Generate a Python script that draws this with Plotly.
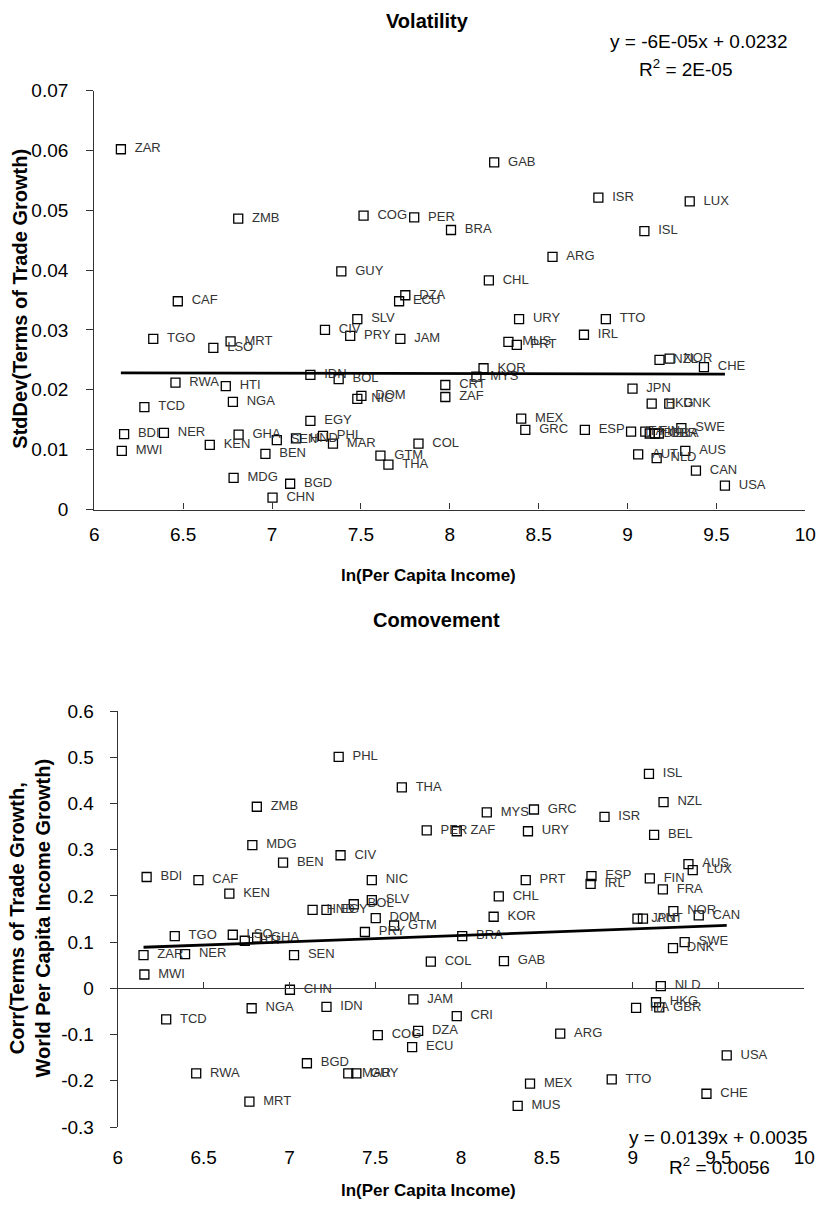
import plotly.graph_objects as go

# ---------------- data ----------------
countries = ["ZAR", "ZMB", "COG", "PER", "GUY", "CAF", "DZA", "ECU", "SLV", "GAB",
             "ISR", "LUX", "BRA", "ISL", "ARG", "CHL", "URY", "TTO", "CIV", "PRY",
             "JAM", "TGO", "MRT", "LSO", "IDN", "BOL", "RWA", "HTI", "DOM", "NIC",
             "NGA", "TCD", "EGY", "BDI", "NER", "GHA", "SEN", "HND", "PHL", "MAR",
             "KEN", "MWI", "BEN", "COL", "GTM", "THA", "MDG", "BGD", "CHN", "IRL",
             "MUS", "PRT", "NZL", "NOR", "CHE", "KOR", "MYS", "CRI", "ZAF", "JPN",
             "HKG", "DNK", "MEX", "GRC", "ESP", "SWE", "AUT", "NLD", "AUS", "CAN",
             "USA", "ITA", "FIN", "BEL", "GBR", "FRA"]

# labels as printed in the Volatility panel (CRI shows as "CRT" there)
volatility_labels = ["ZAR", "ZMB", "COG", "PER", "GUY", "CAF", "DZA", "ECU", "SLV", "GAB",
                     "ISR", "LUX", "BRA", "ISL", "ARG", "CHL", "URY", "TTO", "CIV", "PRY",
                     "JAM", "TGO", "MRT", "LSO", "IDN", "BOL", "RWA", "HTI", "DOM", "NIC",
                     "NGA", "TCD", "EGY", "BDI", "NER", "GHA", "SEN", "HND", "PHL", "MAR",
                     "KEN", "MWI", "BEN", "COL", "GTM", "THA", "MDG", "BGD", "CHN", "IRL",
                     "MUS", "PRT", "NZL", "NOR", "CHE", "KOR", "MYS", "CRT", "ZAF", "JPN",
                     "HKG", "DNK", "MEX", "GRC", "ESP", "SWE", "AUT", "NLD", "AUS", "CAN",
                     "USA", "ITA", "FIN", "BEL", "GBR", "FRA"]

ln_income = [6.15, 6.81, 7.515, 7.80, 7.39, 6.47, 7.75, 7.715, 7.48, 8.25,
             8.836, 9.35, 8.007, 9.095, 8.578, 8.22, 8.39, 8.878, 7.298, 7.44,
             7.722, 6.332, 6.767, 6.67, 7.216, 7.375, 6.457, 6.74, 7.503, 7.48,
             6.78, 6.282, 7.216, 6.168, 6.392, 6.812, 7.027, 7.135, 7.287, 7.343,
             6.65, 6.155, 6.963, 7.824, 7.61, 7.655, 6.784, 7.102, 7.003, 8.755,
             8.33, 8.377, 9.18, 9.237, 9.43, 8.19, 8.15, 7.975, 7.975, 9.028,
             9.136, 9.235, 8.402, 8.425, 8.76, 9.303, 9.06, 9.164, 9.325, 9.385,
             9.548, 9.02, 9.10, 9.125, 9.155, 9.176]

stddev_tot = [0.0602, 0.0486, 0.0491, 0.0488, 0.0398, 0.0348, 0.0358, 0.0348, 0.0318, 0.0580,
              0.0521, 0.0515, 0.0467, 0.0465, 0.0422, 0.0383, 0.0318, 0.0318, 0.0300, 0.0290,
              0.0285, 0.0285, 0.0281, 0.0270, 0.0225, 0.0218, 0.0212, 0.0206, 0.0190, 0.0185,
              0.0180, 0.0171, 0.0148, 0.0126, 0.0128, 0.0125, 0.0116, 0.0119, 0.0123, 0.0110,
              0.0108, 0.0098, 0.0093, 0.0110, 0.0090, 0.0075, 0.0053, 0.0043, 0.0020, 0.0292,
              0.0280, 0.0275, 0.0250, 0.0252, 0.0238, 0.0236, 0.0222, 0.0208, 0.0188, 0.0202,
              0.0177, 0.0177, 0.0152, 0.0133, 0.0133, 0.0136, 0.0092, 0.0086, 0.0098, 0.0065,
              0.0040, 0.0130, 0.0130, 0.0127, 0.0127, 0.0127]

corr_tot = [0.072, 0.393, -0.101, 0.342, -0.184, 0.234, -0.092, -0.127, 0.191, 0.059,
            0.371, 0.256, 0.113, 0.464, -0.098, 0.199, 0.340, -0.197, 0.288, 0.122,
            -0.024, 0.113, -0.245, 0.116, -0.040, 0.182, -0.184, 0.103, 0.152, 0.234,
            -0.043, -0.067, 0.170, 0.241, 0.074, 0.110, 0.072, 0.170, 0.501, -0.184,
            0.205, 0.030, 0.272, 0.058, 0.136, 0.435, 0.310, -0.162, -0.003, 0.226,
            -0.254, 0.234, 0.403, 0.167, -0.228, 0.155, 0.381, -0.060, 0.340, 0.151,
            -0.030, 0.087, -0.206, 0.387, 0.243, 0.100, 0.151, 0.005, 0.269, 0.158,
            -0.145, -0.042, 0.238, 0.332, -0.041, 0.214]

vol_slope, vol_intercept = -6e-05, 0.0232
com_slope, com_intercept = 0.0139, 0.0035
vol_eq = ["y = -6E-05x + 0.0232", "R<sup>2</sup> = 2E-05"]
com_eq = ["y = 0.0139x + 0.0035", "R<sup>2</sup> = 0.0056"]

x_tickvals = [6, 6.5, 7, 7.5, 8, 8.5, 9, 9.5, 10]
x_ticktext = ["6", "6.5", "7", "7.5", "8", "8.5", "9", "9.5", "10"]
vol_tickvals = [0, 0.01, 0.02, 0.03, 0.04, 0.05, 0.06, 0.07]
vol_ticktext = ["0", "0.01", "0.02", "0.03", "0.04", "0.05", "0.06", "0.07"]
com_tickvals = [-0.3, -0.2, -0.1, 0, 0.1, 0.2, 0.3, 0.4, 0.5, 0.6]
com_ticktext = ["-0.3", "-0.2", "-0.1", "0", "0.1", "0.2", "0.3", "0.4", "0.5", "0.6"]

# ---------------- layout helpers ----------------
W, H = 830, 1214
FONT = "Arial, Liberation Sans, Helvetica, sans-serif"
AX = "#333333"


def fx(px):
    return px / W


def fy(px):
    return 1 - px / H


x_lo, x_hi = min(ln_income), max(ln_income)

fig = go.Figure()

marker = dict(symbol="square-open", size=9, color="black", line=dict(width=1.3))
textfont = dict(family=FONT, size=13, color="#333333")

# Volatility panel
fig.add_trace(go.Scatter(
    x=ln_income, y=stddev_tot, text=volatility_labels, mode="markers+text",
    texttemplate="\u00a0\u00a0%{text}", textposition="middle right",
    marker=marker, textfont=textfont, xaxis="x", yaxis="y", hoverinfo="text"))
fig.add_trace(go.Scatter(
    x=[x_lo, x_hi], y=[vol_slope * x_lo + vol_intercept, vol_slope * x_hi + vol_intercept],
    mode="lines", line=dict(color="black", width=2.8), xaxis="x", yaxis="y", hoverinfo="skip"))

# Comovement panel
fig.add_trace(go.Scatter(
    x=ln_income, y=corr_tot, text=countries, mode="markers+text",
    texttemplate="\u00a0\u00a0%{text}", textposition="middle right",
    marker=marker, textfont=textfont, xaxis="x2", yaxis="y2", hoverinfo="text"))
fig.add_trace(go.Scatter(
    x=[x_lo, x_hi], y=[com_slope * x_lo + com_intercept, com_slope * x_hi + com_intercept],
    mode="lines", line=dict(color="black", width=2.8), xaxis="x2", yaxis="y2", hoverinfo="skip"))
# helper trace for the zero-crossing x axis
fig.add_trace(go.Scatter(x=[6], y=[0], mode="markers", marker=dict(size=1, opacity=0),
                         xaxis="x3", yaxis="y2", showlegend=False, hoverinfo="skip"))

tickfont = dict(family=FONT, size=19, color="black")

y1_lo, y1_hi = fy(508.3), fy(82.0)
y2_lo, y2_hi = fy(1136.7), fy(713.4)
zero_pos = y2_lo + (0 - (-0.3)) / 0.9 * (y2_hi - y2_lo)

fig.update_layout(
    width=W, height=H, margin=dict(l=0, r=0, t=0, b=0),
    paper_bgcolor="white", plot_bgcolor="white", showlegend=False,
    font=dict(family=FONT, color="black"),
    xaxis=dict(domain=[fx(91), fx(816)], range=[6, 10], anchor="y",
               tickvals=x_tickvals, ticktext=x_ticktext, tickfont=tickfont,
               showline=True, linecolor=AX, linewidth=1.2, ticks="inside", ticklen=6,
               tickcolor=AX, showgrid=False, zeroline=False, ticklabelstandoff=8),
    yaxis=dict(domain=[y1_lo, y1_hi], range=[0, 0.07], anchor="x",
               tickvals=vol_tickvals, ticktext=vol_ticktext, tickfont=tickfont,
               showline=True, linecolor=AX, linewidth=1.2, ticks="outside", ticklen=7,
               tickcolor=AX, showgrid=False, zeroline=False, ticklabelstandoff=14),
    xaxis2=dict(domain=[fx(115), fx(815)], range=[6, 10], anchor="y2",
                tickvals=x_tickvals, ticktext=x_ticktext, tickfont=tickfont,
                showline=False, ticks="", showgrid=False, zeroline=False,
                ticklabelstandoff=17),
    xaxis3=dict(domain=[fx(115), fx(815)], range=[6, 10], anchor="free",
                overlaying="x2", position=zero_pos,
                tickvals=x_tickvals, showticklabels=False,
                showline=True, linecolor=AX, linewidth=1.2, ticks="inside", ticklen=6,
                tickcolor=AX, showgrid=False, zeroline=False),
    yaxis2=dict(domain=[y2_lo, y2_hi], range=[-0.3, 0.6], anchor="x2",
                tickvals=com_tickvals, ticktext=com_ticktext, tickfont=tickfont,
                showline=True, linecolor=AX, linewidth=1.2, ticks="outside", ticklen=7,
                tickcolor=AX, showgrid=False, zeroline=False, ticklabelstandoff=12),
)

ann = []
title_font = dict(family=FONT, size=20, color="black")
axis_title_font = dict(family=FONT, size=17, color="black")
ytitle_font = dict(family=FONT, size=20, color="black")
eq_font = dict(family=FONT, size=19, color="black")

ann.append(dict(text="<b>Volatility</b>", x=fx(431), y=fy(11), xref="paper", yref="paper",
                showarrow=False, font=title_font, xanchor="center", yanchor="middle"))
ann.append(dict(text="<b>Comovement</b>", x=fx(440), y=fy(621), xref="paper", yref="paper",
                showarrow=False, font=title_font, xanchor="center", yanchor="middle"))
ann.append(dict(text="<b>ln(Per Capita Income)</b>", x=fx(432), y=fy(575), xref="paper",
                yref="paper", showarrow=False, font=axis_title_font, xanchor="center",
                yanchor="middle"))
ann.append(dict(text="<b>ln(Per Capita Income)</b>", x=fx(432), y=fy(1201), xref="paper",
                yref="paper", showarrow=False, font=axis_title_font, xanchor="center",
                yanchor="middle"))
ann.append(dict(text="<b>StdDev(Terms of Trade Growth)</b>", x=fx(15), y=fy(294),
                xref="paper", yref="paper", showarrow=False, font=ytitle_font,
                textangle=-90, xanchor="center", yanchor="middle"))
ann.append(dict(text="<b>Corr(Terms of Trade Growth,<br>World Per Capita Income Growth)</b>",
                x=fx(26), y=fy(924), xref="paper", yref="paper", showarrow=False,
                font=ytitle_font, textangle=-90, xanchor="center", yanchor="middle"))
ann.append(dict(text=vol_eq[0], x=fx(707), y=fy(32), xref="paper", yref="paper",
                showarrow=False, font=eq_font, xanchor="center", yanchor="middle"))
ann.append(dict(text=vol_eq[1], x=fx(694), y=fy(59), xref="paper", yref="paper",
                showarrow=False, font=eq_font, xanchor="center", yanchor="middle"))
ann.append(dict(text=com_eq[0], x=fx(728), y=fy(1147), xref="paper", yref="paper",
                showarrow=False, font=eq_font, xanchor="center", yanchor="middle"))
ann.append(dict(text=com_eq[1], x=fx(729), y=fy(1176), xref="paper", yref="paper",
                showarrow=False, font=eq_font, xanchor="center", yanchor="middle"))
fig.update_layout(annotations=ann)

fig.write_html(
    "out.html",
    config={"displayModeBar": False, "responsive": False},
    post_script=("document.documentElement.style.margin='0';"
                 "document.body.style.margin='0';"
                 "document.documentElement.style.overflow='hidden';"
                 "document.body.style.overflow='hidden';"),
)
